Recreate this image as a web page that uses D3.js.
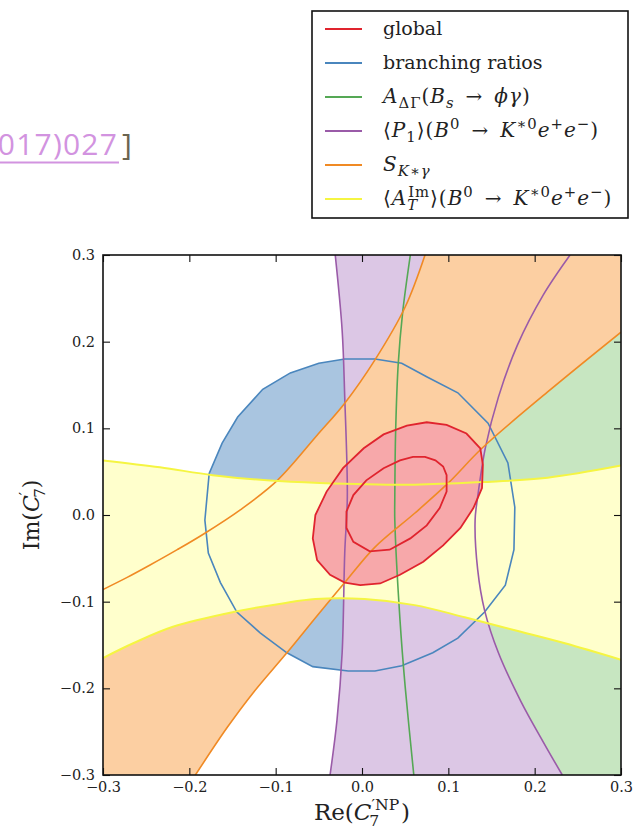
<!DOCTYPE html>
<html>
<head>
<meta charset="utf-8">
<script src="https://cdn.jsdelivr.net/npm/d3@7"></script>
<style>
  body { margin: 0; background: #fff; }
  svg { display: block; }
</style>
</head>
<body>
<svg id="chart" width="635" height="832"></svg>
<script>
// tick values
const xTicks = [-0.3, -0.2, -0.1, 0.0, 0.1, 0.2, 0.3];
const yTicks = [-0.3, -0.2, -0.1, 0.0, 0.1, 0.2, 0.3];

// contours, [Re, Im]
const brCircle = [[-0.020,0.180],[0.015,0.180],[0.046,0.175],[0.076,0.159],[0.111,0.141],[0.146,0.106],[0.169,0.060],[0.177,0.009],[0.176,-0.040],[0.166,-0.081],[0.142,-0.112],[0.111,-0.142],[0.082,-0.159],[0.046,-0.174],[0.015,-0.180],[-0.016,-0.180],[-0.057,-0.175],[-0.087,-0.159],[-0.118,-0.136],[-0.145,-0.112],[-0.164,-0.078],[-0.178,-0.044],[-0.182,-0.006],[-0.177,0.048],[-0.162,0.083],[-0.144,0.113],[-0.115,0.145],[-0.083,0.164],[-0.050,0.175]];
const greenLine = [[0.056,0.300],[0.047,0.233],[0.042,0.175],[0.039,0.098],[0.038,0.021],[0.038,-0.006],[0.044,-0.121],[0.050,-0.198],[0.060,-0.300]];
const purpleLeft = [[-0.031,0.300],[-0.023,0.213],[-0.020,0.136],[-0.017,0.021],[-0.020,-0.044],[-0.023,-0.159],[-0.029,-0.237],[-0.037,-0.300]];
const purpleRight = [[0.241,0.300],[0.210,0.254],[0.180,0.196],[0.158,0.136],[0.143,0.078],[0.134,0.021],[0.131,-0.006],[0.134,-0.063],[0.142,-0.110],[0.158,-0.159],[0.184,-0.215],[0.210,-0.262],[0.232,-0.300]];
const orangeUpper = [[0.073,0.300],[0.050,0.240],[0.015,0.179],[-0.020,0.129],[-0.052,0.092],[-0.098,0.040],[-0.141,0.006],[-0.182,-0.021],[-0.214,-0.040],[-0.246,-0.058],[-0.272,-0.072],[-0.300,-0.086]];
const orangeLower = [[0.300,0.211],[0.215,0.142],[0.139,0.077],[0.100,0.037],[0.061,0.002],[0.015,-0.037],[-0.020,-0.078],[-0.051,-0.115],[-0.087,-0.159],[-0.126,-0.205],[-0.156,-0.245],[-0.193,-0.300]];
const yellowTop = [[-0.300,0.063],[-0.234,0.055],[-0.173,0.046],[-0.110,0.040],[-0.049,0.037],[0.061,0.035],[0.139,0.038],[0.215,0.043],[0.300,0.057]];
const yellowBottom = [[-0.300,-0.165],[-0.265,-0.148],[-0.219,-0.129],[-0.149,-0.112],[-0.092,-0.102],[-0.054,-0.097],[0.003,-0.097],[0.061,-0.104],[0.119,-0.118],[0.177,-0.133],[0.235,-0.148],[0.300,-0.167]];
const globalOuter = [[0.137,0.077],[0.121,0.094],[0.098,0.104],[0.075,0.107],[0.052,0.103],[0.025,0.093],[0.002,0.077],[-0.022,0.054],[-0.041,0.027],[-0.054,0.000],[-0.057,-0.027],[-0.052,-0.052],[-0.037,-0.069],[-0.020,-0.078],[-0.002,-0.081],[0.021,-0.079],[0.044,-0.069],[0.071,-0.054],[0.094,-0.035],[0.114,-0.015],[0.129,0.008],[0.139,0.031],[0.140,0.058]];
const globalInner = [[0.098,0.046],[0.094,0.056],[0.085,0.063],[0.073,0.067],[0.059,0.067],[0.044,0.063],[0.025,0.054],[0.005,0.040],[-0.010,0.023],[-0.018,0.004],[-0.018,-0.015],[-0.010,-0.031],[0.009,-0.042],[0.032,-0.040],[0.056,-0.027],[0.075,-0.012],[0.090,0.008],[0.098,0.027]];

// legend
const legendColors = ['#e0242e', '#4a86bd', '#55a855', '#9a5ba8', '#f08a24', '#f5f542'];
const arrow = '\u2002→\u2002';
const legendLabels = [
  [{t: 'global'}],
  [{t: 'branching ratios'}],
  [{t: 'A', it: 1}, {t: 'ΔΓ', sh: 'sub'}, {t: '('}, {t: 'B', it: 1}, {t: 's', it: 1, sh: 'sub'}, {t: arrow}, {t: 'ϕγ', it: 1}, {t: ')'}],
  [{t: '⟨'}, {t: 'P', it: 1}, {t: '1', sh: 'sub'}, {t: '⟩('}, {t: 'B', it: 1}, {t: '0', sh: 'sup'}, {t: arrow}, {t: 'K', it: 1}, {t: '∗0', sh: 'sup'}, {t: 'e', it: 1}, {t: '+', sh: 'sup'}, {t: 'e', it: 1}, {t: '−', sh: 'sup'}, {t: ')'}],
  [{t: 'S', it: 1}, {t: 'K∗γ', it: 1, sh: 'sub'}],
  [{t: '⟨'}, {t: 'A', it: 1}, {t: 'T', it: 1, sh: 'sub'}, {t: 'Im', sh: 'sup', dx: -10}, {t: '⟩('}, {t: 'B', it: 1}, {t: '0', sh: 'sup'}, {t: arrow}, {t: 'K', it: 1}, {t: '∗0', sh: 'sup'}, {t: 'e', it: 1}, {t: '+', sh: 'sup'}, {t: 'e', it: 1}, {t: '−', sh: 'sup'}, {t: ')'}]
];

const svg = d3.select('#chart');
const serif = '"DejaVu Serif", serif';
const margin = { top: 255, right: 14, bottom: 57, left: 103 };
const width = 635, height = 832;

const x = d3.scaleLinear().domain([-0.3, 0.3]).range([margin.left, width - margin.right]);
const y = d3.scaleLinear().domain([-0.3, 0.3]).range([height - margin.bottom, margin.top]);
const [x0, x1] = x.domain(), [y0, y1] = y.domain();

const polygon = d3.line().x(d => x(d[0])).y(d => y(d[1])).curve(d3.curveLinearClosed);
const smooth = d3.line().x(d => x(d[0])).y(d => y(d[1])).curve(d3.curveCatmullRom);
const cont = pts => smooth(pts).replace(/^M/, 'L');            // continue an open path
const corner = (a, b) => `L${x(a)},${y(b)}`;

// rich text with italics / sub / sup
function rich(sel, parts, size, scale = 0.7) {
  let cur = 0;
  parts.forEach(p => {
    const off = p.sh === 'sub' ? 0.27 * size : p.sh === 'sup' ? -0.42 * size : 0;
    const ts = sel.append('tspan').text(p.t).attr('dy', off - cur);
    cur = off;
    if (p.it) ts.attr('font-style', 'italic');
    if (p.sh) ts.attr('font-size', size * scale);
    if (p.dx) ts.attr('dx', p.dx);
  });
}

// cut-off reference text from the page behind
svg.append('text')
  .attr('x', 118).attr('y', 155)
  .attr('text-anchor', 'end')
  .attr('font-family', '"Open Sans", sans-serif')
  .attr('font-size', 30)
  .attr('letter-spacing', 1.2)
  .attr('fill', '#d293e0')
  .text('(2017)027');
svg.append('line')
  .attr('x1', 0).attr('x2', 119).attr('y1', 162.5).attr('y2', 162.5)
  .attr('stroke', '#d293e0').attr('stroke-width', 2.2);
svg.append('text')
  .attr('x', 122).attr('y', 155)
  .attr('font-family', '"Open Sans", sans-serif')
  .attr('font-size', 30)
  .attr('fill', '#6b6450')
  .text(']');

svg.append('clipPath').attr('id', 'plotclip')
  .append('rect')
  .attr('x', x(x0)).attr('y', y(y1))
  .attr('width', x(x1) - x(x0)).attr('height', y(y0) - y(y1));

const plot = svg.append('g').attr('clip-path', 'url(#plotclip)');

// fills, bottom to top
plot.append('path').attr('d', polygon(brCircle)).attr('fill', '#a9c5e0');
plot.append('path').attr('d', smooth(greenLine) + corner(x1, y0) + corner(x1, y1) + 'Z').attr('fill', '#c7e6c1');
plot.append('path').attr('d', smooth(purpleLeft) + cont(purpleRight.slice().reverse()) + 'Z').attr('fill', '#dcc7e5');
plot.append('path').attr('d', smooth(orangeUpper) + corner(x0, y0) + cont(orangeLower.slice().reverse()) + corner(x1, y1) + 'Z').attr('fill', '#fccfa2');
plot.append('path').attr('d', smooth(yellowTop) + cont(yellowBottom.slice().reverse()) + 'Z').attr('fill', '#ffffcc');
plot.append('path').attr('d', polygon(globalOuter)).attr('fill', '#f7a8aa');

// contour lines
const lw = 1.6;
const stroke = (d, c, w) => plot.append('path').attr('d', d).attr('fill', 'none').attr('stroke', c).attr('stroke-width', w);
stroke(polygon(brCircle), legendColors[1], lw);
stroke(smooth(greenLine), legendColors[2], lw);
[purpleLeft, purpleRight].forEach(c => stroke(smooth(c), legendColors[3], lw));
[orangeUpper, orangeLower].forEach(c => stroke(smooth(c), legendColors[4], lw));
[yellowTop, yellowBottom].forEach(c => stroke(smooth(c), legendColors[5], 2));
[globalOuter, globalInner].forEach(c => stroke(polygon(c), legendColors[0], 1.8));

// axes, ticks pointing inward
const fmt = d3.format('.1f');
const tick = 7;
function styleAxis(g) {
  g.select('.domain').remove();
  g.selectAll('.tick line').attr('stroke', '#111').attr('stroke-width', 1.1);
  g.selectAll('.tick text').attr('font-family', serif).attr('font-size', 14.5).attr('fill', '#222');
}
svg.append('g').attr('transform', `translate(0,${y(y0)})`)
  .call(d3.axisBottom(x).tickValues(xTicks).tickFormat(fmt).tickSize(-tick).tickPadding(7))
  .call(styleAxis);
svg.append('g').attr('transform', `translate(0,${y(y1)})`)
  .call(d3.axisTop(x).tickValues(xTicks).tickFormat('').tickSize(-tick))
  .call(styleAxis);
svg.append('g').attr('transform', `translate(${x(x0)},0)`)
  .call(d3.axisLeft(y).tickValues(yTicks).tickFormat(fmt).tickSize(-tick).tickPadding(8))
  .call(styleAxis);
svg.append('g').attr('transform', `translate(${x(x1)},0)`)
  .call(d3.axisRight(y).tickValues(yTicks).tickFormat('').tickSize(-tick))
  .call(styleAxis);

svg.append('rect')
  .attr('x', x(x0)).attr('y', y(y1))
  .attr('width', x(x1) - x(x0)).attr('height', y(y0) - y(y1))
  .attr('fill', 'none').attr('stroke', '#111').attr('stroke-width', 1.6);

// axis titles
const xt = svg.append('text')
  .attr('x', (x(x0) + x(x1)) / 2).attr('y', 820)
  .attr('text-anchor', 'middle')
  .attr('font-family', serif).attr('font-size', 23).attr('fill', '#222');
rich(xt, [{t: 'Re('}, {t: 'C', it: 1}, {t: '′', sh: 'sup'}, {t: 'NP', sh: 'sup'}, {t: '7', sh: 'sub', dx: -30}, {t: ')', dx: 22}], 23, 0.68);

const yt = svg.append('text')
  .attr('transform', `translate(39,${(y(y0) + y(y1)) / 2}) rotate(-90)`)
  .attr('text-anchor', 'middle')
  .attr('font-family', serif).attr('font-size', 22).attr('fill', '#222');
rich(yt, [{t: 'Im('}, {t: 'C', it: 1}, {t: '′', sh: 'sup'}, {t: '7', sh: 'sub', dx: -6}, {t: ')'}], 22, 0.68);

// legend
const leg = svg.append('g');
leg.append('rect')
  .attr('x', 312).attr('y', 11).attr('width', 316).attr('height', 207)
  .attr('fill', '#fff').attr('stroke', '#111').attr('stroke-width', 1.6);
legendLabels.forEach((parts, i) => {
  const ly = 29 + i * 34;
  const math = i >= 2;
  leg.append('line')
    .attr('x1', 325).attr('x2', 362).attr('y1', ly).attr('y2', ly)
    .attr('stroke', legendColors[i]).attr('stroke-width', 2);
  const t = leg.append('text')
    .attr('x', 383).attr('y', ly + 6)
    .attr('font-family', serif).attr('font-size', math ? 20 : 19)
    .attr('letter-spacing', math ? 1.0 : 0)
    .attr('fill', '#222');
  rich(t, parts, math ? 20 : 19, 0.74);
});
</script>
</body>
</html>
